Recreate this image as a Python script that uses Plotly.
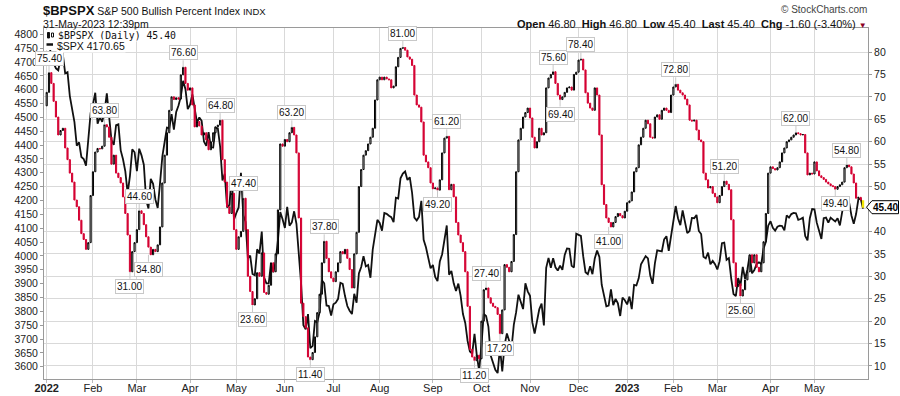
import plotly.graph_objects as go
import pandas as pd

# ---------------- DATA ----------------
holidays = ["2022-01-17", "2022-02-21", "2022-04-15", "2022-05-30", "2022-06-20",
            "2022-07-04", "2022-09-05", "2022-11-24", "2022-12-26", "2023-01-02",
            "2023-01-16", "2023-02-20", "2023-04-07", "2023-05-29"]

bp_jan22 = [71, 75.4, 73, 69, 65.5, 61.5, 62.5, 63, 58.6, 56, 53, 51, 47, 45.5, 42.5, 39.5, 38.2, 36, 37.5, 48]
bp_feb22 = [53.3, 57.7, 58.5, 58.4, 59, 63.8, 63.3, 61, 55, 57, 53, 52, 50.8, 47.7, 44, 39.2, 31, 35.5, 37.5]
bp_mar22 = [40.4, 44.6, 44, 41.5, 38.8, 36.5, 34.8, 36, 35.5, 37, 41, 50.8, 57, 62, 67, 70, 69.4, 69.8, 69.5, 74.9, 76.6, 73, 71.5]
bp_apr22 = [72, 68.2, 63.3, 64.5, 63.5, 61.5, 62, 60.4, 58.2, 60, 62, 63.3, 63.7, 64.8, 56, 51, 45.5, 44, 48.5, 40.4]
bp_may22 = [36, 38.8, 40, 47.4, 40.4, 30, 26.6, 23.6, 25, 30.8, 30, 35.2, 26.4, 26, 28, 33, 31, 35, 44.8, 59.5, 59]
bp_jun22 = [60.5, 60, 62, 63.2, 61.5, 57.5, 43, 24, 21, 18.5, 12, 11.4, 13, 16.5, 21.9, 26, 33, 37.8, 34, 31, 29.6]
bp_jul22 = [28.8, 31, 33, 35.5, 35, 36, 34, 31.5, 27.4, 35, 39.8, 50, 53.8, 57, 58, 59.5, 61, 63, 69.3, 73.8]
bp_aug22 = [74.4, 73.8, 74.4, 74, 73.8, 72, 72.4, 76.7, 78.8, 80.8, 81, 80.4, 78.9, 78.4, 77, 70.4, 68.2, 67.7, 64.4, 57, 55.5, 54.2, 50.8]
bp_sep22 = [49.5, 49.7, 49.2, 51.5, 57.5, 60.8, 61.2, 49.3, 50.5, 47.7, 42, 39.2, 37.5, 35.5, 31, 23.3, 13.7, 12, 11.2, 12.4, 11.6]
bp_oct22 = [20, 27, 27.4, 25.2, 24, 23.3, 23, 21.5, 17.2, 22.5, 32.6, 32, 31, 33.3, 39.3, 53.3, 60.4, 63, 65.5, 66.5, 67.5]
bp_nov22 = [65.3, 61, 58.6, 60, 63, 61.5, 62, 72, 74.2, 75, 75.6, 73, 70.4, 69.4, 70, 71, 72, 72.2, 71.5, 75, 75.5]
bp_dec22 = [78.2, 78.4, 76, 70.9, 68.6, 67.5, 67, 72, 70.4, 61.5, 50.4, 46, 43, 42, 41, 42, 43.3, 44, 43.5, 43, 44.5]
bp_jan23 = [46.4, 46.8, 48.8, 53.3, 54.2, 59.3, 61, 63, 64.8, 64, 61, 60.8, 65.5, 66, 65, 67, 67.5, 67, 66.5, 70.4]
bp_feb23 = [72.2, 72.8, 71.5, 70.9, 70.4, 69.5, 68.2, 64.8, 64.6, 64.8, 62.6, 60.4, 60, 53, 51.5, 49.7, 50, 48.5, 47.7]
bp_mar23 = [46.4, 48, 50, 51.2, 50.5, 49.3, 42.6, 33, 27.7, 28.3, 25.6, 27, 29.2, 31, 34.8, 33, 34.8, 32, 31, 33, 37.7, 44, 53]
bp_apr23 = [54.4, 54, 53.7, 54.2, 55.5, 57.5, 58.6, 60, 60.4, 61, 61.5, 62, 61.8, 61.5, 61.6, 57.5, 52.6, 53, 52.8]
bp_may23 = [55.5, 53.5, 52.4, 52, 51.6, 51, 50.6, 50.2, 50, 49.4, 50, 50.4, 51, 54.2, 54.8, 54.4, 52.8, 50.8, 47.4, 47.6, 47.0, 45.4]

spx_jan22 = [4796, 4793, 4700, 4696, 4677, 4670, 4713, 4726, 4659, 4663, 4577, 4533, 4483, 4398, 4410, 4357, 4350, 4326, 4432, 4516]
spx_feb22 = [4546, 4589, 4477, 4501, 4484, 4522, 4587, 4504, 4419, 4401, 4472, 4475, 4381, 4349, 4305, 4226, 4289, 4385, 4374]
spx_mar22 = [4306, 4387, 4363, 4329, 4201, 4171, 4278, 4260, 4204, 4173, 4262, 4358, 4412, 4463, 4461, 4512, 4456, 4520, 4543, 4575, 4632, 4602, 4530]
spx_apr22 = [4546, 4583, 4525, 4481, 4500, 4488, 4413, 4397, 4447, 4392, 4391, 4463, 4460, 4394, 4272, 4296, 4175, 4184, 4288, 4132]
spx_may22 = [4155, 4175, 4300, 4147, 4123, 3991, 4001, 3935, 3930, 4024, 4008, 4088, 3923, 3901, 3901, 3974, 3941, 3979, 4058, 4158, 4132]
spx_jun22 = [4101, 4177, 4109, 4121, 4161, 4116, 4018, 3901, 3750, 3735, 3790, 3667, 3675, 3765, 3760, 3796, 3912, 3901, 3821, 3819, 3785]
spx_jul22 = [3825, 3831, 3845, 3903, 3899, 3855, 3819, 3802, 3790, 3863, 3831, 3937, 3960, 3999, 3962, 3967, 3921, 4024, 4072, 4130]
spx_aug22 = [4119, 4091, 4155, 4152, 4145, 4140, 4122, 4210, 4207, 4280, 4297, 4305, 4274, 4284, 4228, 4138, 4128, 4141, 4199, 4058, 4031, 3986, 3955]
spx_sep22 = [3967, 3924, 3909, 3980, 4006, 4067, 4110, 3932, 3946, 3901, 3873, 3900, 3856, 3790, 3758, 3693, 3655, 3647, 3719, 3640, 3586]
spx_oct22 = [3678, 3791, 3783, 3745, 3640, 3612, 3589, 3577, 3670, 3583, 3678, 3720, 3695, 3666, 3752, 3797, 3860, 3831, 3808, 3901, 3872]
spx_nov22 = [3856, 3760, 3720, 3771, 3807, 3828, 3749, 3957, 3993, 3957, 3992, 3959, 3947, 3965, 3950, 4003, 4027, 4026, 3964, 3958, 4080]
spx_dec22 = [4076, 4072, 3999, 3941, 3934, 3963, 3934, 3991, 4019, 3996, 3896, 3852, 3818, 3821, 3879, 3822, 3845, 3829, 3783, 3849, 3840]
spx_jan23 = [3825, 3853, 3808, 3895, 3893, 3919, 3970, 3983, 3999, 3991, 3929, 3899, 3973, 4020, 4017, 4016, 4060, 4071, 4018, 4077]
spx_feb23 = [4119, 4180, 4136, 4111, 4164, 4118, 4082, 4090, 4137, 4136, 4148, 4090, 4079, 3997, 3991, 4012, 3970, 3982, 3970]
spx_mar23 = [3951, 3981, 4046, 4048, 3986, 3992, 3919, 3862, 3855, 3920, 3892, 3960, 3917, 3951, 4003, 3937, 3949, 3971, 3977, 3971, 4027, 4051, 4109]
spx_apr23 = [4125, 4101, 4091, 4105, 4109, 4108, 4092, 4146, 4138, 4151, 4155, 4154, 4130, 4133, 4138, 4072, 4056, 4136, 4169]
spx_may23 = [4168, 4120, 4091, 4061, 4136, 4138, 4120, 4138, 4131, 4124, 4136, 4110, 4159, 4198, 4192, 4192, 4146, 4116, 4151, 4205, 4206, 4170.65]

first_open = 68.0
last_open = 46.80

peak_dates = ["2022-01-04", "2022-02-08", "2022-03-02", "2022-03-29", "2022-04-21", "2022-05-05",
              "2022-06-06", "2022-06-27", "2022-08-15", "2022-09-12", "2022-10-05", "2022-11-15",
              "2022-12-02", "2023-02-02", "2023-03-06", "2023-04-19", "2023-05-19"]
peak_values = [75.40, 63.80, 44.60, 76.60, 64.80, 47.40, 63.20, 37.80, 81.00, 61.20, 27.40, 75.60,
               78.40, 72.80, 51.20, 62.00, 54.80]
trough_dates = ["2022-02-24", "2022-03-08", "2022-05-11", "2022-06-16", "2022-09-06", "2022-09-28",
                "2022-10-13", "2022-11-18", "2022-12-20", "2023-03-15", "2023-05-12"]
trough_values = [31.00, 34.80, 23.60, 11.40, 49.20, 11.20, 17.20, 69.40, 41.00, 25.60, 49.40]

month_labels = ["<b>2022</b>", "Feb", "Mar", "Apr", "May", "Jun", "Jul", "Aug", "Sep", "Oct",
                "Nov", "Dec", "<b>2023</b>", "Feb", "Mar", "Apr", "May"]

# ---------------- BUILD ----------------
bp_close = (bp_jan22 + bp_feb22 + bp_mar22 + bp_apr22 + bp_may22 + bp_jun22 + bp_jul22 + bp_aug22 +
            bp_sep22 + bp_oct22 + bp_nov22 + bp_dec22 + bp_jan23 + bp_feb23 + bp_mar23 + bp_apr23 + bp_may23)
spx_close = (spx_jan22 + spx_feb22 + spx_mar22 + spx_apr22 + spx_may22 + spx_jun22 + spx_jul22 + spx_aug22 +
             spx_sep22 + spx_oct22 + spx_nov22 + spx_dec22 + spx_jan23 + spx_feb23 + spx_mar23 + spx_apr23 + spx_may23)

days = pd.bdate_range("2022-01-03", "2023-05-31")
days = days[~days.isin(pd.to_datetime(holidays))]
n = min(len(days), len(bp_close), len(spx_close))
days = days[:n]
bp_close = bp_close[:n]
spx_close = spx_close[:n]
xs = list(range(n))
day_index = {d.strftime("%Y-%m-%d"): i for i, d in enumerate(days)}

bp_open = [first_open] + bp_close[:-1]
bp_open[-1] = last_open
bp_high = [max(o, c) for o, c in zip(bp_open, bp_close)]
bp_low = [min(o, c) for o, c in zip(bp_open, bp_close)]

tickvals = [i for i in range(n) if i == 0 or days[i].month != days[i - 1].month]

RED = "#d40032"
FONT = "Liberation Sans, Arial, sans-serif"

# geometry (pixels)
W, H = 900, 396
ML, MR, MT, MB = 44, 32, 28, 17
PW, PH = W - ML - MR, H - MT - MB
x0_px, dx_px = 46.7, 2.3125
xr = [-(x0_px - ML) / dx_px, -(x0_px - ML) / dx_px + PW / dx_px]
y2r = [7.1, 85.35]


def px(p):
    return (p - ML) / PW


def py(p):
    return (H - MB - p) / PH


fig = go.Figure()

fig.add_trace(go.Scatter(x=xs, y=spx_close, mode="lines", yaxis="y",
                         line=dict(color="#111111", width=1.8), showlegend=False,
                         hoverinfo="skip"))

fig.add_trace(go.Candlestick(x=xs[:-1], open=bp_open[:-1], high=bp_high[:-1], low=bp_low[:-1],
                             close=bp_close[:-1], yaxis="y2", showlegend=False,
                             increasing=dict(line=dict(color="#000000", width=1), fillcolor="#ffffff"),
                             decreasing=dict(line=dict(color=RED, width=1), fillcolor=RED),
                             whiskerwidth=0))
fig.add_trace(go.Candlestick(x=xs[-1:], open=bp_open[-1:], high=bp_high[-1:], low=bp_low[-1:],
                             close=bp_close[-1:], yaxis="y2", showlegend=False,
                             increasing=dict(line=dict(color="#f2e600", width=1.2), fillcolor=RED),
                             decreasing=dict(line=dict(color="#f2e600", width=1.2), fillcolor=RED),
                             whiskerwidth=0))

annotations = []
lab_font = dict(family="Liberation Sans Narrow, " + FONT, size=10, color="#111")
for d, v in zip(peak_dates, peak_values):
    if d in day_index:
        annotations.append(dict(x=day_index[d], y=v, xref="x", yref="y2", text=f"{v:.2f}",
                                showarrow=True, arrowhead=0, arrowwidth=1, arrowcolor="#c8c8c8",
                                ax=0, ay=-7, yanchor="bottom", standoff=0, font=lab_font,
                                bgcolor="white", bordercolor="#c8c8c8", borderwidth=1, borderpad=1))
for d, v in zip(trough_dates, trough_values):
    if d in day_index:
        annotations.append(dict(x=day_index[d], y=v, xref="x", yref="y2", text=f"{v:.2f}",
                                showarrow=True, arrowhead=0, arrowwidth=1, arrowcolor="#c8c8c8",
                                ax=0, ay=7, yanchor="top", standoff=0, font=lab_font,
                                bgcolor="white", bordercolor="#c8c8c8", borderwidth=1, borderpad=1))

# header texts
annotations.append(dict(xref="paper", yref="paper", x=px(41), y=py(10.5), xanchor="left", yanchor="middle",
                        showarrow=False,
                        text="<b>$BPSPX</b><span style='font-size:10.5px'> S&P 500 Bullish Percent Index "
                             "</span><span style='font-size:9.5px'>INDX</span>",
                        font=dict(family=FONT, size=13, color="#111")))
annotations.append(dict(xref="paper", yref="paper", x=px(41), y=py(23.5), xanchor="left", yanchor="middle",
                        showarrow=False, text="31-May-2023 12:39pm",
                        font=dict(family=FONT, size=10.5, color="#111")))
annotations.append(dict(xref="paper", yref="paper", x=px(869), y=py(10), xanchor="right", yanchor="middle",
                        showarrow=False, text="© StockCharts.com",
                        font=dict(family=FONT, size=10, color="#444")))
annotations.append(dict(xref="paper", yref="paper", x=px(869), y=py(23.5), xanchor="right", yanchor="middle",
                        showarrow=False,
                        text="<b>Open</b> 46.80  <b>High</b> 46.80  <b>Low</b> 45.40  <b>Last</b> 45.40  "
                             "<b>Chg</b> -1.60 (-3.40%) <span style='color:#8b0025;font-size:8px'>▼</span>",
                        font=dict(family=FONT, size=11, color="#111")))

# legend
annotations.append(dict(xref="paper", yref="paper", x=px(57), y=py(35.5), xanchor="left", yanchor="middle",
                        showarrow=False, text="$BPSPX (Daily) 45.40", bgcolor="white", borderpad=0,
                        font=dict(family="DejaVu Sans Mono, monospace", size=9.8, color="#111")))
annotations.append(dict(xref="paper", yref="paper", x=px(56), y=py(45.5), xanchor="left", yanchor="middle",
                        showarrow=False, text="$SPX 4170.65", bgcolor="white", borderpad=0,
                        font=dict(family=FONT, size=10.5, color="#111")))

# right-axis value tag
annotations.append(dict(xref="paper", yref="y2", x=px(885.5), y=bp_close[-1], xanchor="center", yanchor="middle",
                        showarrow=False, text=f"<b>{bp_close[-1]:.2f}</b>",
                        font=dict(family="Liberation Sans Narrow, " + FONT, size=10, color="#000")))

u = 6.5 / (PH / (y2r[1] - y2r[0]))
v = bp_close[-1]
shapes = [
    # legend background + icons
    dict(type="rect", xref="paper", yref="paper", x0=px(45), x1=px(57), y0=py(50), y1=py(30),
         fillcolor="white", line=dict(width=0)),
    dict(type="line", xref="paper", yref="paper", x0=px(46.5), x1=px(53), y0=py(44.5), y1=py(44.5),
         line=dict(color="#111", width=2.5)),
    dict(type="rect", xref="paper", yref="paper", x0=px(47.5), x1=px(49.5), y0=py(38), y1=py(32.5),
         fillcolor="#111", line=dict(color="#111", width=1)),
    dict(type="rect", xref="paper", yref="paper", x0=px(51.5), x1=px(53.5), y0=py(37), y1=py(33),
         fillcolor="white", line=dict(color="#111", width=1)),
    # value tag outline (covers the 45 tick label, as in the original)
    dict(type="path", xref="paper", yref="y2", layer="above",
         path=f"M {px(866.5)} {v} L {px(872)} {v + u} L {px(898.5)} {v + u} L {px(898.5)} {v - u} L {px(872)} {v - u} Z",
         fillcolor="white", line=dict(color="#000", width=1)),
]

fig.update_layout(
    width=W, height=H,
    margin=dict(l=ML, r=MR, t=MT, b=MB, pad=0, autoexpand=False),
    paper_bgcolor="white", plot_bgcolor="white",
    font=dict(family=FONT, size=11, color="#222"),
    showlegend=False,
    hovermode=False,
    xaxis=dict(range=xr, tickmode="array", tickvals=tickvals, ticktext=month_labels[:len(tickvals)],
               showgrid=True, gridcolor="#d9d9d9", gridwidth=1, zeroline=False, automargin=False,
               showline=True, linecolor="#9a9a9a", mirror=True, ticks="outside", ticklen=3,
               ticklabelstandoff=-4,
               tickcolor="#bbbbbb", tickfont=dict(size=11, color="#222"), rangeslider=dict(visible=False)),
    yaxis=dict(range=[3555.6, 4822.7], tickmode="array", tickvals=list(range(3600, 4801, 50)),
               showgrid=False, zeroline=False, showline=True, linecolor="#9a9a9a", mirror=True,
               automargin=False, ticks="outside", ticklen=3, tickcolor="#9a9a9a",
               tickfont=dict(size=10.5, color="#222")),
    yaxis2=dict(range=y2r, overlaying="y", side="right", tickmode="array", automargin=False,
                tickvals=list(range(10, 81, 5)), showgrid=True, gridcolor="#d9d9d9", gridwidth=1,
                zeroline=False, ticks="outside", ticklen=3, tickcolor="#9a9a9a",
                tickfont=dict(size=10.5, color="#222")),
    annotations=annotations,
    shapes=shapes,
)

fig.write_html("out.html", config={"displayModeBar": False, "staticPlot": True},
               post_script="document.body.style.margin='0px';document.body.style.overflow='hidden';")
